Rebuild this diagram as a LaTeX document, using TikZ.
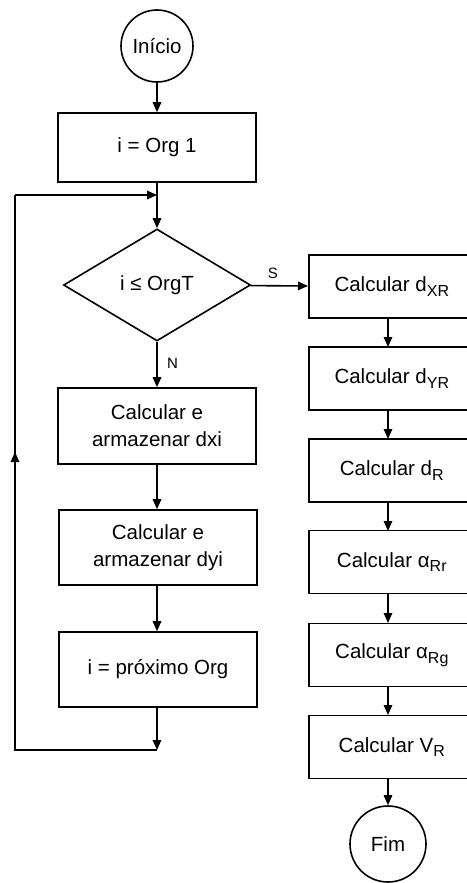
\documentclass[tikz,border=0pt]{standalone}
\usepackage{fontspec}
\setmainfont{Liberation Sans}
\usetikzlibrary{shapes.geometric,arrows.meta}
\newcommand\sbx[1]{\raisebox{-4.5pt}{\fontsize{16}{16}\selectfont #1}}
\begin{document}
\begin{tikzpicture}[x=1pt,y=-1pt,
  every node/.style={font=\fontsize{20.5}{27}\selectfont},
  box/.style={draw, line width=1.6pt, inner sep=0pt, align=center},
  lbox/.style={box, minimum width=198pt, minimum height=75pt},
  rbox/.style={box, minimum width=166pt, minimum height=63pt},
  arr/.style={line width=1.6pt, -{Triangle[length=10pt,width=8.5pt]}},
  ln/.style={line width=1.6pt},
  lbl/.style={font=\fontsize{15}{17}\selectfont}]
\fill[white] (0,0) rectangle (466,883);
\useasboundingbox (0,0) rectangle (466,883);
% left column
\node[box, circle, minimum size=72pt] (ini) at (157,46) {Início};
\node[box, minimum width=198pt, minimum height=69pt] (b1) at (157,147.5) {i = Org 1};
\node[box, diamond, minimum width=187pt, minimum height=112pt, aspect=1.67] (dec) at (157,285) {i ≤ OrgT};
\node[lbox, minimum height=76pt] (b2) at (157,426) {Calcular e\\armazenar dxi};
\node[lbox] (b3) at (158,547.5) {Calcular e\\armazenar dyi};
\node[lbox] (b4) at (158,669.5) {i = próximo Org};
% right column
\node[rbox, anchor=west] (r1) at (308,286.5) {Calcular d\sbx{XR}};
\node[rbox, anchor=west] (r2) at (308,378.5) {Calcular d\sbx{YR}};
\node[rbox, anchor=west] (r3) at (308,470.5) {Calcular d\sbx{R}};
\node[rbox, anchor=west] (r4) at (308,562) {Calcular α\sbx{Rr}};
\node[rbox, anchor=west] (r5) at (308,655) {Calcular α\sbx{Rg}};
\node[rbox, anchor=west] (r6) at (308,747) {Calcular V\sbx{R}};
\node[box, circle, minimum size=76pt] (fim) at (388,844) {Fim};
% loop coordinates
\coordinate (j) at (157,195);
\coordinate (c1) at (157,750);
\coordinate (c2) at (15,750);
\coordinate (c3) at (15,195);
\coordinate (cm) at (15,452);
% right column arrow coordinates
\foreach \i/\y in {1/318,2/410,3/502,4/593,5/687,6/779}{
  \coordinate (s\i) at (388,\y);
}
\foreach \i/\y in {2/347,3/439,4/531,5/623,6/715}{
  \coordinate (t\i) at (388,\y);
}
% connectors
\draw[arr] (ini) -- (b1);
\draw[arr] (b1) -- (dec);
\draw[arr] (dec) -- node[lbl, above=3pt, pos=0.39] {S} (r1);
\draw[arr] (dec) -- node[lbl, right=6pt, pos=0.47] {N} (b2);
\draw[arr] (b2) -- (b2 |- b3.north);
\draw[arr] (b3.south -| b2) -- (b2 |- b4.north);
\draw[arr] (b4.south -| b2) -- (c1);
\draw[ln] (c1) -- (c2) -- (c3);
\draw[arr] (c3) -- (j);
\draw[arr] (c2) -- (cm);
\draw[arr] (s1) -- (t2);
\draw[arr] (s2) -- (t3);
\draw[arr] (s3) -- (t4);
\draw[arr] (s4) -- (t5);
\draw[arr] (s5) -- (t6);
\draw[arr] (s6) -- (fim);
\end{tikzpicture}
\end{document}
